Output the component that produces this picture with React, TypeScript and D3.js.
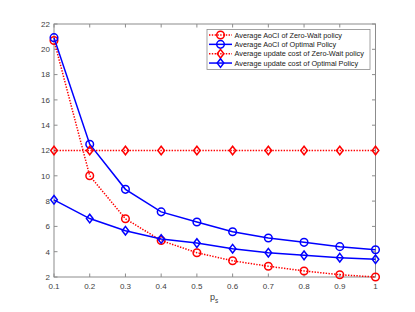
import React from "react";
import { scaleLinear, line } from "d3";

// p_s values on the x axis
const ps = [0.1, 0.2, 0.3, 0.4, 0.5, 0.6, 0.7, 0.8, 0.9, 1.0];
const xTicks = [0.1, 0.2, 0.3, 0.4, 0.5, 0.6, 0.7, 0.8, 0.9, 1];
const yTicks = [2, 4, 6, 8, 10, 12, 14, 16, 18, 20, 22];

const aociZeroWait = [20.7, 10.0, 6.6, 4.88, 3.92, 3.28, 2.85, 2.48, 2.18, 2.0];
const aociOptimal = [20.92, 12.5, 8.93, 7.15, 6.35, 5.58, 5.08, 4.74, 4.4, 4.16];
const costZeroWait = [12, 12, 12, 12, 12, 12, 12, 12, 12, 12];
const costOptimal = [8.1, 6.62, 5.66, 5.0, 4.68, 4.24, 3.92, 3.71, 3.53, 3.4];

const legendLabels = [
  "Average AoCI of Zero-Wait policy",
  "Average AoCI of Optimal Policy",
  "Average update cost of Zero-Wait policy",
  "Average update cost of Optimal Policy",
];

const W = 415;
const H = 312;
const m = { left: 54, right: 375.5, top: 24, bottom: 277 };
const font = "'Liberation Sans', Arial, Helvetica, sans-serif";
const axisColor = "#8c8c8c";
const textColor = "#404040";

type Series = {
  values: number[];
  color: string;
  dash?: string;
  marker: "circle" | "diamond";
};

const series: Series[] = [
  { values: aociZeroWait, color: "#ff0000", dash: "1.4 1.4", marker: "circle" },
  { values: aociOptimal, color: "#0000ff", marker: "circle" },
  { values: costZeroWait, color: "#ff0000", dash: "1.4 1.4", marker: "diamond" },
  { values: costOptimal, color: "#0000ff", marker: "diamond" },
];

function Marker({ kind, x, y, color }: { kind: string; x: number; y: number; color: string }) {
  if (kind === "circle") {
    return <circle cx={x} cy={y} r={3.8} fill="none" stroke={color} strokeWidth={1.5} />;
  }
  const d = `M${x},${y - 4.3}L${x + 3.3},${y}L${x},${y + 4.3}L${x - 3.3},${y}Z`;
  return <path d={d} fill="none" stroke={color} strokeWidth={1.5} />;
}

export default function App() {
  const x = scaleLinear().domain([0.1, 1]).range([m.left, m.right]);
  const y = scaleLinear().domain([2, 22]).range([m.bottom, m.top]);
  const gen = line<number>()
    .x((_, i) => x(ps[i]))
    .y((v) => y(v));

  const tickLen = 3.5;
  const legend = { x0: 207, x1: 370, y0: 29.5, y1: 69.5 };
  const rowY = (i: number) => 35 + i * 9.35;

  return (
    <div style={{ position: "fixed", left: 0, top: 0 }}>
      <svg width={W} height={H} style={{ display: "block", background: "#fff" }}>
        {/* plot box */}
        <rect x={m.left} y={m.top} width={m.right - m.left} height={m.bottom - m.top}
          fill="#fff" stroke={axisColor} strokeWidth={1} />
        {xTicks.map((t) => (
          <g key={"x" + t}>
            <line x1={x(t)} x2={x(t)} y1={m.bottom} y2={m.bottom - tickLen} stroke={axisColor} />
            <line x1={x(t)} x2={x(t)} y1={m.top} y2={m.top + tickLen} stroke={axisColor} />
            <text x={x(t)} y={m.bottom + 12} textAnchor="middle" fontFamily={font}
              fontSize={8} fill={textColor}>{String(t)}</text>
          </g>
        ))}
        {yTicks.map((t) => (
          <g key={"y" + t}>
            <line x1={m.left} x2={m.left + tickLen} y1={y(t)} y2={y(t)} stroke={axisColor} />
            <line x1={m.right} x2={m.right - tickLen} y1={y(t)} y2={y(t)} stroke={axisColor} />
            <text x={m.left - 4} y={y(t) + 2.8} textAnchor="end" fontFamily={font}
              fontSize={8} fill={textColor}>{String(t)}</text>
          </g>
        ))}
        <text x={210} y={300} fontFamily={font} fontSize={9} fill={textColor}>
          p<tspan fontSize={6.5} dy={2.5}>s</tspan>
        </text>

        {/* series */}
        {series.map((s, si) => (
          <g key={"s" + si}>
            <path d={gen(s.values) || ""} fill="none" stroke={s.color} strokeWidth={1.5}
              strokeDasharray={s.dash} />
            {s.values.map((v, i) => (
              <Marker key={i} kind={s.marker} x={x(ps[i])} y={y(v)} color={s.color} />
            ))}
          </g>
        ))}

        {/* legend */}
        <rect x={legend.x0} y={legend.y0} width={legend.x1 - legend.x0} height={legend.y1 - legend.y0}
          fill="#fff" stroke={axisColor} strokeWidth={0.8} />
        {series.map((s, i) => (
          <g key={"l" + i}>
            <line x1={209} x2={232} y1={rowY(i)} y2={rowY(i)} stroke={s.color} strokeWidth={1.5}
              strokeDasharray={s.dash} />
            <Marker kind={s.marker} x={220.5} y={rowY(i)} color={s.color} />
            <text x={234.5} y={rowY(i) + 2.6} fontFamily={font} fontSize={7.3} fill="#202020">
              {legendLabels[i]}
            </text>
          </g>
        ))}
      </svg>
    </div>
  );
}
